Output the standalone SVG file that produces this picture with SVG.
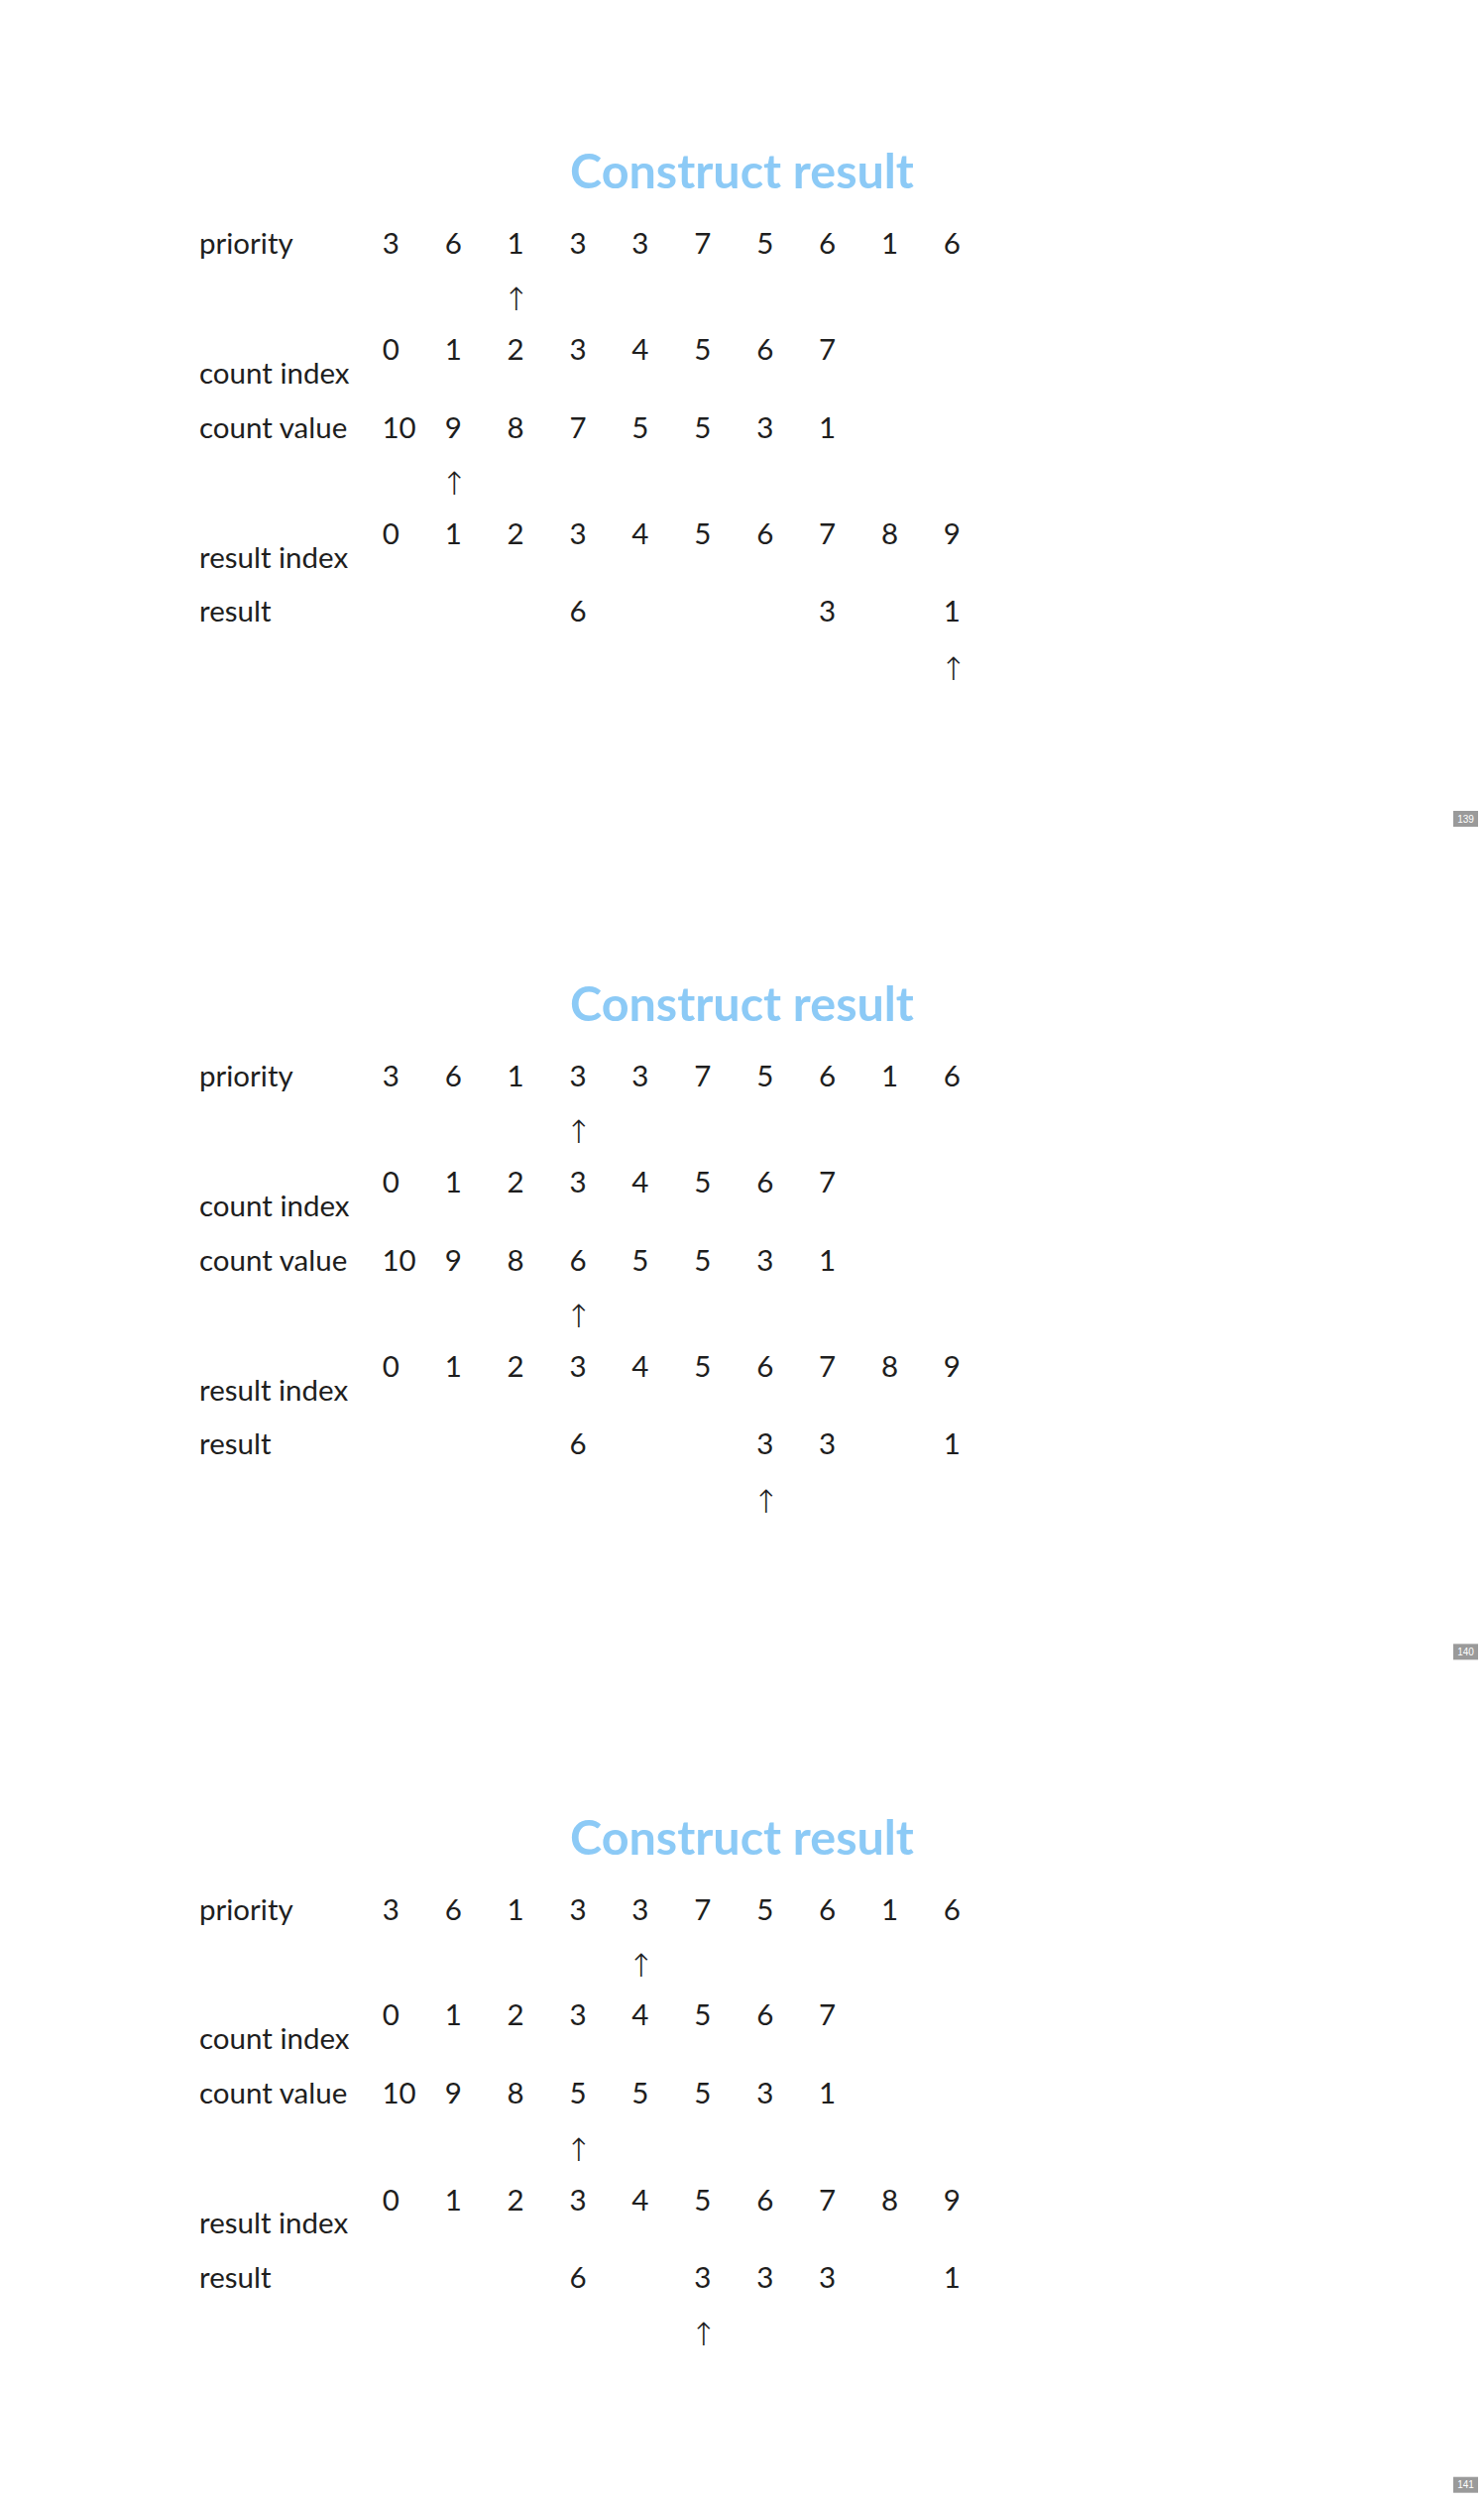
<svg xmlns="http://www.w3.org/2000/svg" width="1497" height="2525" viewBox="0 0 1497 2525">
  <style>
    .title { font-family: Lato, "Open Sans", "Liberation Sans", sans-serif; font-weight: 700; font-size: 48.5px; fill: #8ccaf6; text-anchor: middle; }
    .lbl { font-family: Lato, "Open Sans", "Liberation Sans", sans-serif; font-size: 29.5px; fill: #1e1e1e; }
    .num { font-family: Lato, "Open Sans", "Liberation Sans", sans-serif; font-size: 29.5px; fill: #1e1e1e; text-anchor: middle; }
    .num10 { font-family: Lato, "Open Sans", "Liberation Sans", sans-serif; font-size: 29.5px; fill: #1e1e1e; }
    .ptr { font-family: "Noto Sans", "DejaVu Sans", sans-serif; font-weight: 300; font-size: 32px; fill: #1e1e1e; text-anchor: middle; }
    .badge { fill: #9a9a9a; }
    .badge-t { font-family: "Liberation Sans", Arial, sans-serif; font-size: 10px; fill: #ffffff; text-anchor: middle; }
  </style>

  <rect width="1497" height="2525" fill="#ffffff"/>

  <!-- Slide 139 -->
  <g id="slide-139">
    <text class="title" x="748.5" y="190">Construct result</text>
    <g id="row-priority-1">
      <text class="lbl" x="201" y="256">priority</text>
      <text class="num" x="394.3" y="256">3</text>
      <text class="num" x="457.2" y="256">6</text>
      <text class="num" x="520.1" y="256">1</text>
      <text class="num" x="583" y="256">3</text>
      <text class="num" x="645.9" y="256">3</text>
      <text class="num" x="708.8" y="256">7</text>
      <text class="num" x="771.7" y="256">5</text>
      <text class="num" x="834.6" y="256">6</text>
      <text class="num" x="897.5" y="256">1</text>
      <text class="num" x="960.4" y="256">6</text>
    </g>
    <text id="ptr-priority-1" class="ptr" x="521" y="313">↑</text>
    <g id="row-count-index-1">
      <text class="lbl" x="201" y="386.5">count index</text>
      <text class="num" x="394.3" y="362.5">0</text>
      <text class="num" x="457.2" y="362.5">1</text>
      <text class="num" x="520.1" y="362.5">2</text>
      <text class="num" x="583" y="362.5">3</text>
      <text class="num" x="645.9" y="362.5">4</text>
      <text class="num" x="708.8" y="362.5">5</text>
      <text class="num" x="771.7" y="362.5">6</text>
      <text class="num" x="834.6" y="362.5">7</text>
    </g>
    <g id="row-count-value-1">
      <text class="lbl" x="201" y="441.5">count value</text>
      <text class="num10" x="385.5" y="441.5">10</text>
      <text class="num" x="457.2" y="441.5">9</text>
      <text class="num" x="520.1" y="441.5">8</text>
      <text class="num" x="583" y="441.5">7</text>
      <text class="num" x="645.9" y="441.5">5</text>
      <text class="num" x="708.8" y="441.5">5</text>
      <text class="num" x="771.7" y="441.5">3</text>
      <text class="num" x="834.6" y="441.5">1</text>
    </g>
    <text id="ptr-count-1" class="ptr" x="458.5" y="499">↑</text>
    <g id="row-result-index-1">
      <text class="lbl" x="201" y="572.5">result index</text>
      <text class="num" x="394.3" y="549">0</text>
      <text class="num" x="457.2" y="549">1</text>
      <text class="num" x="520.1" y="549">2</text>
      <text class="num" x="583" y="549">3</text>
      <text class="num" x="645.9" y="549">4</text>
      <text class="num" x="708.8" y="549">5</text>
      <text class="num" x="771.7" y="549">6</text>
      <text class="num" x="834.6" y="549">7</text>
      <text class="num" x="897.5" y="549">8</text>
      <text class="num" x="960.4" y="549">9</text>
    </g>
    <g id="row-result-1">
      <text class="lbl" x="201" y="627">result</text>
      <text class="num" x="583" y="627">6</text>
      <text class="num" x="834.6" y="627">3</text>
      <text class="num" x="960.4" y="627">1</text>
    </g>
    <text id="ptr-result-1" class="ptr" x="962" y="685.5">↑</text>
    <g id="page-139">
      <rect class="badge" x="1466" y="818" width="25" height="16"/>
      <text class="badge-t" x="1478.5" y="829.5">139</text>
    </g>
  </g>

  <!-- Slide 140 -->
  <g id="slide-140" transform="translate(0,840.35)">
    <text class="title" x="748.5" y="190">Construct result</text>
    <g id="row-priority-2">
      <text class="lbl" x="201" y="256">priority</text>
      <text class="num" x="394.3" y="256">3</text>
      <text class="num" x="457.2" y="256">6</text>
      <text class="num" x="520.1" y="256">1</text>
      <text class="num" x="583" y="256">3</text>
      <text class="num" x="645.9" y="256">3</text>
      <text class="num" x="708.8" y="256">7</text>
      <text class="num" x="771.7" y="256">5</text>
      <text class="num" x="834.6" y="256">6</text>
      <text class="num" x="897.5" y="256">1</text>
      <text class="num" x="960.4" y="256">6</text>
    </g>
    <text id="ptr-priority-2" class="ptr" x="584" y="313">↑</text>
    <g id="row-count-index-2">
      <text class="lbl" x="201" y="386.5">count index</text>
      <text class="num" x="394.3" y="362.5">0</text>
      <text class="num" x="457.2" y="362.5">1</text>
      <text class="num" x="520.1" y="362.5">2</text>
      <text class="num" x="583" y="362.5">3</text>
      <text class="num" x="645.9" y="362.5">4</text>
      <text class="num" x="708.8" y="362.5">5</text>
      <text class="num" x="771.7" y="362.5">6</text>
      <text class="num" x="834.6" y="362.5">7</text>
    </g>
    <g id="row-count-value-2">
      <text class="lbl" x="201" y="441.5">count value</text>
      <text class="num10" x="385.5" y="441.5">10</text>
      <text class="num" x="457.2" y="441.5">9</text>
      <text class="num" x="520.1" y="441.5">8</text>
      <text class="num" x="583" y="441.5">6</text>
      <text class="num" x="645.9" y="441.5">5</text>
      <text class="num" x="708.8" y="441.5">5</text>
      <text class="num" x="771.7" y="441.5">3</text>
      <text class="num" x="834.6" y="441.5">1</text>
    </g>
    <text id="ptr-count-2" class="ptr" x="584" y="499">↑</text>
    <g id="row-result-index-2">
      <text class="lbl" x="201" y="572.5">result index</text>
      <text class="num" x="394.3" y="549">0</text>
      <text class="num" x="457.2" y="549">1</text>
      <text class="num" x="520.1" y="549">2</text>
      <text class="num" x="583" y="549">3</text>
      <text class="num" x="645.9" y="549">4</text>
      <text class="num" x="708.8" y="549">5</text>
      <text class="num" x="771.7" y="549">6</text>
      <text class="num" x="834.6" y="549">7</text>
      <text class="num" x="897.5" y="549">8</text>
      <text class="num" x="960.4" y="549">9</text>
    </g>
    <g id="row-result-2">
      <text class="lbl" x="201" y="627">result</text>
      <text class="num" x="583" y="627">6</text>
      <text class="num" x="771.7" y="627">3</text>
      <text class="num" x="834.6" y="627">3</text>
      <text class="num" x="960.4" y="627">1</text>
    </g>
    <text id="ptr-result-2" class="ptr" x="773" y="685.5">↑</text>
    <g id="page-140">
      <rect class="badge" x="1466" y="818" width="25" height="16"/>
      <text class="badge-t" x="1478.5" y="829.5">140</text>
    </g>
  </g>

  <!-- Slide 141 -->
  <g id="slide-141" transform="translate(0,1680.7)">
    <text class="title" x="748.5" y="190">Construct result</text>
    <g id="row-priority-3">
      <text class="lbl" x="201" y="256">priority</text>
      <text class="num" x="394.3" y="256">3</text>
      <text class="num" x="457.2" y="256">6</text>
      <text class="num" x="520.1" y="256">1</text>
      <text class="num" x="583" y="256">3</text>
      <text class="num" x="645.9" y="256">3</text>
      <text class="num" x="708.8" y="256">7</text>
      <text class="num" x="771.7" y="256">5</text>
      <text class="num" x="834.6" y="256">6</text>
      <text class="num" x="897.5" y="256">1</text>
      <text class="num" x="960.4" y="256">6</text>
    </g>
    <text id="ptr-priority-3" class="ptr" x="647" y="313">↑</text>
    <g id="row-count-index-3">
      <text class="lbl" x="201" y="386.5">count index</text>
      <text class="num" x="394.3" y="362.5">0</text>
      <text class="num" x="457.2" y="362.5">1</text>
      <text class="num" x="520.1" y="362.5">2</text>
      <text class="num" x="583" y="362.5">3</text>
      <text class="num" x="645.9" y="362.5">4</text>
      <text class="num" x="708.8" y="362.5">5</text>
      <text class="num" x="771.7" y="362.5">6</text>
      <text class="num" x="834.6" y="362.5">7</text>
    </g>
    <g id="row-count-value-3">
      <text class="lbl" x="201" y="441.5">count value</text>
      <text class="num10" x="385.5" y="441.5">10</text>
      <text class="num" x="457.2" y="441.5">9</text>
      <text class="num" x="520.1" y="441.5">8</text>
      <text class="num" x="583" y="441.5">5</text>
      <text class="num" x="645.9" y="441.5">5</text>
      <text class="num" x="708.8" y="441.5">5</text>
      <text class="num" x="771.7" y="441.5">3</text>
      <text class="num" x="834.6" y="441.5">1</text>
    </g>
    <text id="ptr-count-3" class="ptr" x="584" y="499">↑</text>
    <g id="row-result-index-3">
      <text class="lbl" x="201" y="572.5">result index</text>
      <text class="num" x="394.3" y="549">0</text>
      <text class="num" x="457.2" y="549">1</text>
      <text class="num" x="520.1" y="549">2</text>
      <text class="num" x="583" y="549">3</text>
      <text class="num" x="645.9" y="549">4</text>
      <text class="num" x="708.8" y="549">5</text>
      <text class="num" x="771.7" y="549">6</text>
      <text class="num" x="834.6" y="549">7</text>
      <text class="num" x="897.5" y="549">8</text>
      <text class="num" x="960.4" y="549">9</text>
    </g>
    <g id="row-result-3">
      <text class="lbl" x="201" y="627">result</text>
      <text class="num" x="583" y="627">6</text>
      <text class="num" x="708.8" y="627">3</text>
      <text class="num" x="771.7" y="627">3</text>
      <text class="num" x="834.6" y="627">3</text>
      <text class="num" x="960.4" y="627">1</text>
    </g>
    <text id="ptr-result-3" class="ptr" x="710" y="685.5">↑</text>
    <g id="page-141">
      <rect class="badge" x="1466" y="818" width="25" height="16"/>
      <text class="badge-t" x="1478.5" y="829.5">141</text>
    </g>
  </g>
</svg>
